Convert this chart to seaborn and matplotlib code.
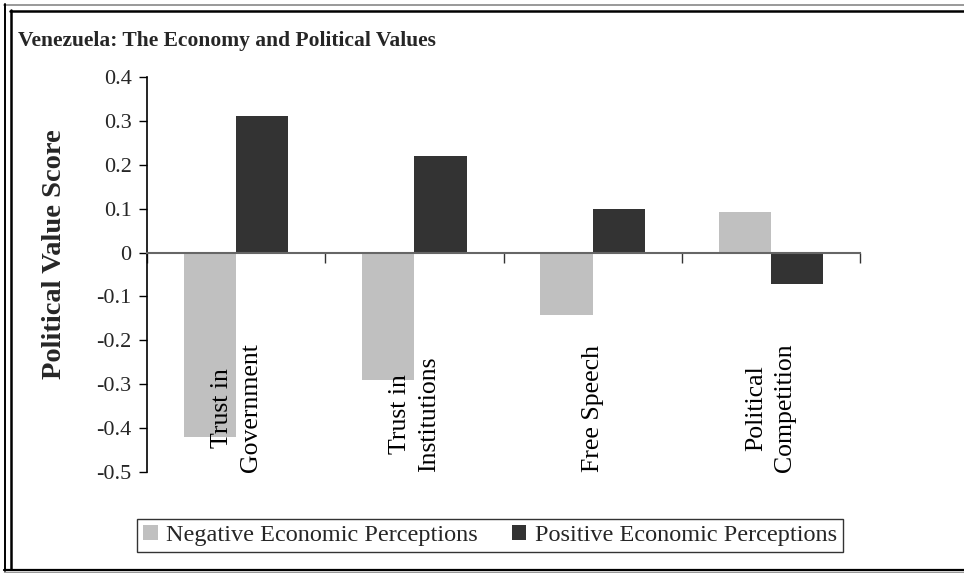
import matplotlib
matplotlib.use("Agg")
import matplotlib.pyplot as plt
import seaborn as sns
import pandas as pd
from matplotlib.lines import Line2D

categories = ["Trust in\nGovernment", "Trust in\nInstitutions", "Free Speech", "Political\nCompetition"]
series_names = ["Negative Economic Perceptions", "Positive Economic Perceptions"]
negative_vals = [-0.42, -0.29, -0.142, 0.092]
positive_vals = [0.31, 0.22, 0.10, -0.071]
y_ticks = [0.4, 0.3, 0.2, 0.1, 0, -0.1, -0.2, -0.3, -0.4, -0.5]
y_tick_labels = ["0.4", "0.3", "0.2", "0.1", "0", "-0.1", "-0.2", "-0.3", "-0.4", "-0.5"]
title = "Venezuela: The Economy and Political Values"
y_label = "Political Value Score"
colors = ["#C0C0C0", "#333333"]

df = pd.DataFrame({
    "category": categories * 2,
    "series": [series_names[0]] * 4 + [series_names[1]] * 4,
    "value": negative_vals + positive_vals,
})

sns.set_theme(style="white")
plt.rcParams["font.family"] = ["Liberation Serif", "DejaVu Serif"]

W, H = 964, 573
fig = plt.figure(figsize=(W / 100, H / 100), dpi=100)
fig.patch.set_facecolor("white")

def fx(px):
    return px / W

def fy(py):
    return 1 - py / H

ax_left, ax_right, ax_top, ax_bottom = 147, 860, 77, 472
ax = fig.add_axes([fx(ax_left), fy(ax_bottom), fx(ax_right - ax_left), (ax_bottom - ax_top) / H])

sns.barplot(data=df, x="category", y="value", hue="series", order=categories,
            hue_order=series_names, palette=colors, width=0.585, gap=0,
            saturation=1, edgecolor="none", linewidth=0, ax=ax, legend=True)

ax.set_xlim(-0.5, len(categories) - 0.5)
ax.set_ylim(-0.5, 0.4)
ax.set_yticks(y_ticks)
ax.set_yticklabels(y_tick_labels, fontsize=16)
ax.tick_params(axis="y", direction="out", length=6, width=1, color="black", pad=5, left=True)
ax.set_xlabel("")
ax.set_ylabel("")

# x axis drawn at zero with category-boundary ticks
ax.spines["bottom"].set_position(("data", 0))
ax.spines["bottom"].set_color("#666666")
ax.spines["bottom"].set_linewidth(1.5)
ax.spines["left"].set_color("black")
ax.spines["left"].set_linewidth(1.2)
ax.spines["top"].set_visible(False)
ax.spines["right"].set_visible(False)
ax.set_xticks([i - 0.5 for i in range(len(categories) + 1)])
ax.set_xticklabels([""] * (len(categories) + 1))
ax.tick_params(axis="x", direction="out", length=7, width=1, color="#333333", bottom=True)
ax.set_zorder(2)
for p in ax.patches:
    p.set_zorder(1)
ax.spines["bottom"].set_zorder(3)

# category labels, rotated, sitting on the bottom of the plot area
for i, c in enumerate(categories):
    ax.text(i, -0.5, c, rotation=90, ha="center", va="bottom", multialignment="center",
            fontsize=18.5, linespacing=1.4, color="black", zorder=4)

# legend
handles, labels = ax.get_legend_handles_labels()
ax.legend_.remove()
leg = fig.legend(handles, labels, loc="center", ncol=2,
                 bbox_to_anchor=(fx(490), fy(535.5)),
                 frameon=True, fancybox=False, edgecolor="black", fontsize=17.5,
                 handlelength=0.6, handleheight=0.6, handletextpad=0.35,
                 columnspacing=1.4, borderpad=0.25, borderaxespad=0)
leg.get_frame().set_linewidth(1.0)

# title and y label
fig.text(fx(18), fy(46), title, fontsize=15.5, fontweight="bold", ha="left", va="baseline")
fig.text(fx(55), fy(254), y_label, fontsize=20.5, fontweight="bold", rotation=90,
         ha="center", va="center")

# double frame around the figure
def hline(y, x0, x1, color, lw):
    fig.add_artist(Line2D([fx(x0), fx(x1)], [fy(y), fy(y)], color=color, lw=lw, transform=fig.transFigure))

def vline(x, y0, y1, color, lw):
    fig.add_artist(Line2D([fx(x), fx(x)], [fy(y0), fy(y1)], color=color, lw=lw, transform=fig.transFigure))

hline(4.5, 4, 964, "#888888", 1.2)
hline(10.5, 10, 964, "black", 1.8)
vline(4.5, 4, 571, "black", 1.4)
vline(10.5, 10, 569, "black", 1.8)
hline(569.5, 4, 964, "black", 1.6)
hline(571.5, 4, 964, "#999999", 1.0)

fig.savefig("out.png", dpi=100, facecolor="white")
